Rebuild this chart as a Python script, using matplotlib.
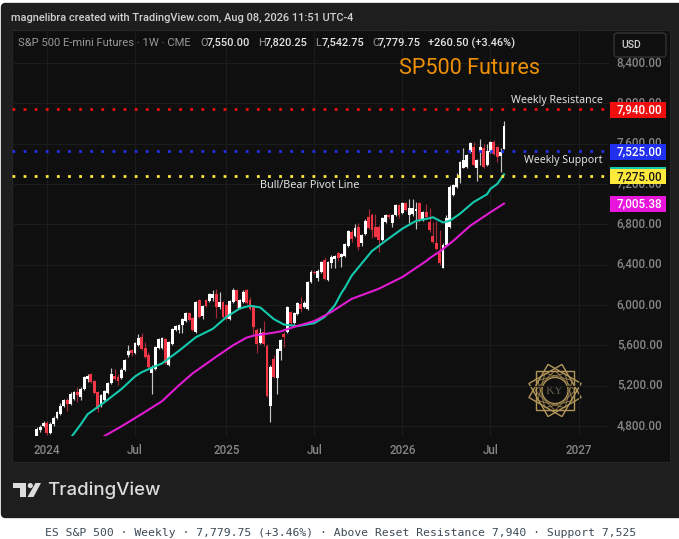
import numpy as np
import matplotlib
matplotlib.use("Agg")
import matplotlib.pyplot as plt
from matplotlib.patches import Rectangle, FancyBboxPatch, Polygon, Circle
from matplotlib.transforms import ScaledTranslation

# ---- data ----
first_week = -3
opens = [4700,4760,4800,4830,4730,4815,4880,4920,5000,5060,5020,5070,5140,5090,5170,5270,5310,5250,5140,5000,5060,5130,5230,5300,5290,5280,5350,
         5500,5550,5522,5600,5680,5570,5500,5320,5360,5570,5575,5660,5400,5610,5750,5750,5800,5840,5920,5870,5730,6050,5890,6050,6040,6070,6110,5980,6030,
         6000,5860,6030,6150,5970,6030,6150,6050,5990,5750,5620,5730,5590,5000,5460,5280,5540,5710,5730,5930,5820,5910,6010,5980,5955,
         6225,6330,6264,6324,6446,6248,6413,6456,6512,6479,6486,6585,6727,6684,6777,6612,6704,6876,6893,6777,6777,6645,6820,6893,6810,6893,6992,6909,7008,6892,
         6898,6935,7008,6842,6918,6826,6687,6617,6512,6369,6595,6776,7090,7173,7256,7361,7371,7520,7570,7361,7520,7553,7388,7520,7619,7563,7480,7550]
closes = [4770,4790,4830,4730,4820,4880,4935,5000,5060,5020,5120,5140,5110,5170,5290,5300,5240,5130,4970,5110,5150,5230,5310,5270,5250,5350,5450,
          5545,5520,5620,5670,5560,5480,5380,5380,5580,5660,5670,5420,5630,5760,5790,5800,5860,5920,5850,5750,6030,5880,5990,5990,6110,6110,5980,6030,5880,
          5860,6040,6150,6040,6050,6130,6020,5960,5780,5610,5720,5610,5100,5380,5290,5560,5650,5680,5980,5820,5920,6020,5960,6020,6230,
          6330,6315,6337,6430,6258,6430,6479,6486,6463,6502,6602,6734,6650,6767,6578,6694,6833,6760,6744,6678,6645,6860,6893,6870,6893,6992,6893,7008,6942,6958,
          6958,6951,6832,6918,6875,6743,6627,6551,6412,6595,6859,7173,7190,7262,7421,7437,7487,7603,7388,7437,7570,7371,7527,7619,7494,7471,7520,7779.75]
highs = [4790,4810,4850,4850,4840,4900,4950,5030,5070,5075,5140,5150,5190,5190,5300,5310,5325,5260,5150,5120,5160,5240,5370,5360,5310,5370,5460,
         5600,5560,5630,5710,5720,5630,5530,5400,5590,5670,5680,5670,5640,5770,5800,5810,5870,5930,5930,5880,6040,6060,6000,6060,6120,6150,6160,6130,6040,
         6010,6050,6170,6160,6060,6150,6160,6080,6000,5770,5770,5840,5610,5400,5500,5570,5660,5730,5990,5940,5930,6030,6080,6040,6240,
         6345,6345,6355,6440,6472,6440,6495,6500,6530,6515,6612,6745,6745,6800,6815,6705,6853,6952,6910,6900,6790,6870,6905,6905,6900,7005,7000,7020,7020,7050,
         7050,7024,7020,6930,7000,6958,6826,6832,6743,6610,6892,7185,7200,7310,7430,7553,7500,7615,7620,7450,7646,7593,7593,7630,7636,7575,7553,7820.25]
lows = [4660,4740,4790,4710,4720,4800,4870,4910,4990,4950,5010,5060,5040,5060,5160,5240,5230,5120,4940,4990,5050,5120,5220,5260,5205,5270,5340,
        5480,5490,5510,5590,5550,5470,5360,5120,5350,5560,5565,5410,5390,5600,5740,5725,5723,5830,5840,5740,5720,5870,5860,5980,6030,6040,5870,5960,5870,
        5850,5850,6020,5970,5960,6020,6010,5950,5690,5520,5610,5590,5090,4840,5280,5120,5450,5580,5720,5810,5810,5900,5930,5970,5945,
        6215,6305,6240,6315,6248,6240,6370,6363,6440,6373,6476,6575,6620,6675,6544,6580,6695,6750,6661,6670,6529,6635,6810,6850,6775,6885,6860,6900,6935,6809,
        6880,6753,6820,6835,6860,6727,6615,6545,6400,6363,6585,6766,7085,7160,7205,7354,7360,7510,7378,7233,7388,7360,7380,7510,7484,7421,7322,7542.75]

fast_ma_weeks = [7,10,12,17,22,26,28,34,39,44,49,53,57,60,63,67,70,74,79,82,85,87,88,90,96,101,105,109,113,114,117,119,122,126,130,131,133,135]
fast_ma = [4680,4815,4915,5035,5165,5290,5333,5420,5545,5680,5763,5880,5966,5992,5975,5860,5805,5790,5820,5880,5995,6120,6170,6290,6535,6660,6757,6834,6860,6870,6818,6835,6905,7020,7098,7152,7200,7296]
slow_ma_weeks = [17,22,28,34,39,43,50,55,59,61,64,67,69,73,79,84,90,98,105,112,113,116,120,125,131,135]
slow_ma = [4700,4795,4918,5045,5203,5320,5486,5600,5676,5695,5710,5725,5737,5782,5840,5930,6060,6160,6277,6435,6463,6530,6635,6785,6920,7005.38]

levels = [7940.00, 7525.00, 7275.00]
level_colors = ["#f00f0f", "#2230f0", "#ffe93b"]
level_texts = ["7,940.00", "7,525.00", "7,275.00", "7,005.38"]
price_ticks = [4800,5200,5600,6000,6400,6800,7200,7600,8000,8400]
time_ticks = [0,26,53,79,105,131,157]
time_labels = ["2024","Jul","2025","Jul","2026","Jul","2027"]

W, H = 679, 539
PANE, CARD = "#0f0f0f", "#1e1e1e"
GRID, TICK = "#1c1c1c", "#868686"
UP, DOWN = "#ffffff", "#f23645"
FONT = "Roboto"

fig = plt.figure(figsize=(W/100, H/100), dpi=100, facecolor="white")

def overlay(z):
    a = fig.add_axes([0, 0, 1, 1], zorder=z)
    a.set_xlim(0, W); a.set_ylim(H, 0); a.axis("off")
    return a

under = overlay(0)
under.add_patch(FancyBboxPatch((5, 7), 680, 507, boxstyle="round,pad=0,rounding_size=0", lw=6, ec=CARD, fc=CARD, joinstyle="round"))
under.add_patch(Rectangle((12, 30), 658, 432, fc=PANE, ec="#262626", lw=0.8))

# watermark emblem
gold = "#b3975a"
cx, cy, R = 555, 390.5, 27
for deg in (0, 30, 60):
    angs = np.radians(np.array([45, 135, 225, 315]) + deg)
    under.add_patch(Polygon(np.c_[cx + R*np.cos(angs), cy + R*np.sin(angs)], closed=True, fill=False, ec=gold, lw=1.0))
for deg in (15, 45, 75):
    angs = np.radians(np.array([45, 135, 225, 315]) + deg)
    under.add_patch(Polygon(np.c_[cx + 20*np.cos(angs), cy + 20*np.sin(angs)], closed=True, fill=False, ec=gold, lw=0.7, alpha=0.75))
under.add_patch(Circle((cx, cy), 13, fill=True, fc=PANE, ec=gold, lw=0.9))
under.text(cx, cy, "KY", color="#5f5a4a", ha="center", va="center", fontsize=9, family="Liberation Serif")

# main chart axes
L, R_, T, B = 12, 609, 30, 436
ax = fig.add_axes([L/W, (H-B)/H, (R_-L)/W, (B-T)/H], zorder=1)
ax.patch.set_alpha(0)
ax.set_ylim(6800-(B-224.3)/0.1008, 6800+(224.3-T)/0.1008)
ax.set_xlim((L-46.9)/3.386, (R_-46.9)/3.386)
for s in ax.spines.values():
    s.set_visible(False)
ax.grid(True, color=GRID, lw=0.8)
ax.set_axisbelow(True)
ax.yaxis.tick_right()
ax.set_yticks(price_ticks, [f"{p:,.2f}" for p in price_ticks])
ax.set_xticks(time_ticks, time_labels)
ax.tick_params(length=0, labelcolor=TICK, labelsize=8.4)
ax.tick_params(axis="y", pad=5.6)
ax.tick_params(axis="x", pad=6.0)
up_shift = ScaledTranslation(0, 1.8/100, fig.dpi_scale_trans)
for t in ax.get_xticklabels() + ax.get_yticklabels():
    t.set_family(FONT); t.set_fontweight("medium")
for t in ax.get_yticklabels():
    t.set_transform(t.get_transform() + up_shift)

weeks = np.arange(first_week, first_week + len(opens))
o, c, h, l = map(np.array, (opens, closes, highs, lows))
is_up = c >= o
ax.vlines(weeks[is_up], l[is_up], h[is_up], color="#c4c4c4", lw=0.85, zorder=3)
ax.vlines(weeks[~is_up], l[~is_up], h[~is_up], color="#a52a36", lw=0.85, zorder=3)
ax.bar(weeks[is_up], c[is_up]-o[is_up], bottom=o[is_up], width=0.84, color=UP, lw=0, zorder=4)
ax.bar(weeks[~is_up], o[~is_up]-c[~is_up], bottom=c[~is_up], width=0.84, color=DOWN, lw=0, zorder=4)
ax.plot(fast_ma_weeks, fast_ma, color="#14c9ae", lw=1.5, zorder=5, solid_joinstyle="round")
ax.plot(slow_ma_weeks, slow_ma, color="#e01bd3", lw=1.5, zorder=5, solid_joinstyle="round")
for v, col in zip(levels, level_colors):
    ax.axhline(v, color=col, lw=2.0, ls=(0, (1, 3.0)), zorder=6, dash_capstyle="butt")

# top layer
top = overlay(2)
def txt(x, y, s, color="#d6d6d6", size=8, ha="left", weight="normal", family=FONT):
    top.text(x, y, s, color=color, fontsize=size, ha=ha, va="center", fontweight=weight, family=family)

txt(11, 18, "magnelibra created with TradingView.com, Aug 08, 2026 11:51 UTC-4", "#d0d0d0", 7.9, weight="medium")
GREY, WH = "#989898", "#e4e4e4"
txt(18, 43, "S&P 500 E-mini Futures · 1W · CME", GREY, 8.15)
for x, s in [(200, "O"), (258, "H"), (315.5, "L"), (372, "C")]:
    txt(x, 43, s, GREY, 7.9)
for x, s in [(207, "7,550.00"), (264.5, "7,820.25"), (321.5, "7,542.75"), (378, "7,779.75"), (428, "+260.50 (+3.46%)")]:
    txt(x, 43, s, WH, 7.9, weight="medium")

top.add_patch(FancyBboxPatch((614, 33), 52, 24, boxstyle="round,pad=0,rounding_size=3", fc=PANE, ec="#333333", lw=1))
txt(621, 45, "USD", "#cfcfcf", 7.6, weight="medium")
txt(399, 69, "SP500 Futures", "#ee8f05", 15.6)

txt(603, 100, "Weekly Resistance", "#e2e2e2", 7.65, ha="right", weight="medium", family="Noto Sans")
txt(603, 160.5, "Weekly Support", "#e2e2e2", 7.6, ha="right", weight="medium", family="Noto Sans")
txt(260, 186, "Bull/Bear Pivot Line", "#e2e2e2", 7.85, weight="medium", family="Noto Sans")

boxes = [(102, 15.5, level_colors[0], "#ffffff"), (144, 15.5, level_colors[1], "#ffffff"),
         (169, 15, level_colors[2], "#1a1a1a"), (196, 16, "#e815dc", "#ffffff")]
top.add_patch(Rectangle((610, 167), 56, 3, fc="#14c9ae", ec="none"))
for (y, hh, fc, tc), s in zip(boxes, level_texts):
    top.add_patch(Rectangle((610, y), 56, hh, fc=fc, ec="none"))
    txt(639, y + hh/2, s, tc, 8.4, ha="center", weight="medium")

# TradingView logo
logo = "#dcdcdc"
top.add_patch(Rectangle((13, 483), 13, 5.2, fc=logo, ec="none"))
top.add_patch(Rectangle((20, 483), 6, 14, fc=logo, ec="none"))
top.add_patch(Circle((30.3, 485.6), 2.6, fc=logo, ec="none"))
top.add_patch(Polygon([(35.5, 483), (41, 483), (33.5, 497), (27.5, 497)], fc=logo, ec="none"))
txt(47.5, 490, "TradingView", "#dcdcdc", 13.4, weight="medium", family="Inter")

txt(341, 533, "ES S&P 500 · Weekly · 7,779.75 (+3.46%) · Above Reset Resistance 7,940 · Support 7,525",
    "#3c4a56", 8.2, ha="center", family="DejaVu Sans Mono")

fig.savefig("out.png", dpi=100, facecolor="white")
